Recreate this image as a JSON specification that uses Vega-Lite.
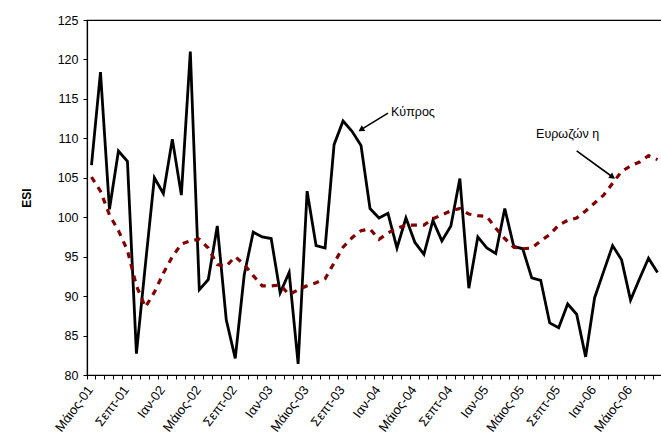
{
  "$schema": "https://vega.github.io/schema/vega-lite/v6.json",
  "width": 575,
  "height": 355,
  "autosize": {"type": "none"},
  "padding": {"left": 87, "top": 20, "right": 0, "bottom": 66},
  "background": "white",
  "config": {
    "view": {"stroke": "#000", "strokeWidth": 1.2},
    "font": "Liberation Sans",
    "axis": {"domainColor": "#000", "tickColor": "#000", "labelColor": "#000", "titleColor": "#000", "grid": false}
  },
  "datasets": {
    "esi": [
      {"m": "Μάιος-01", "cy": 106.6, "ez": 105.1},
      {"m": "Ιουν-01", "cy": 118.4, "ez": 103.3},
      {"m": "Ιουλ-01", "cy": 101.0, "ez": 100.3},
      {"m": "Αυγ-01", "cy": 108.4, "ez": 98.3},
      {"m": "Σεπτ-01", "cy": 107.1, "ez": 95.8},
      {"m": "Οκτ-01", "cy": 82.7, "ez": 91.3},
      {"m": "Νοε-01", "cy": 94.0, "ez": 88.6},
      {"m": "Δεκ-01", "cy": 105.0, "ez": 90.5},
      {"m": "Ιαν-02", "cy": 103.0, "ez": 92.9},
      {"m": "Φεβ-02", "cy": 109.9, "ez": 95.0},
      {"m": "Μαρ-02", "cy": 102.8, "ez": 96.6},
      {"m": "Απρ-02", "cy": 121.0, "ez": 97.0},
      {"m": "Μάιος-02", "cy": 90.8, "ez": 97.2},
      {"m": "Ιουν-02", "cy": 92.1, "ez": 96.1},
      {"m": "Ιουλ-02", "cy": 98.9, "ez": 94.0},
      {"m": "Αυγ-02", "cy": 87.0, "ez": 93.8},
      {"m": "Σεπτ-02", "cy": 82.1, "ez": 95.0},
      {"m": "Οκτ-02", "cy": 92.7, "ez": 94.0},
      {"m": "Νοε-02", "cy": 98.1, "ez": 92.6},
      {"m": "Δεκ-02", "cy": 97.5, "ez": 91.3},
      {"m": "Ιαν-03", "cy": 97.3, "ez": 91.3},
      {"m": "Φεβ-03", "cy": 90.4, "ez": 91.4},
      {"m": "Μαρ-03", "cy": 93.0, "ez": 90.2},
      {"m": "Απρ-03", "cy": 81.4, "ez": 90.8},
      {"m": "Μάιος-03", "cy": 103.3, "ez": 91.3},
      {"m": "Ιουν-03", "cy": 96.4, "ez": 91.7},
      {"m": "Ιουλ-03", "cy": 96.1, "ez": 92.2},
      {"m": "Αυγ-03", "cy": 109.2, "ez": 94.2},
      {"m": "Σεπτ-03", "cy": 112.2, "ez": 96.2},
      {"m": "Οκτ-03", "cy": 110.9, "ez": 97.4},
      {"m": "Νοε-03", "cy": 109.1, "ez": 98.3},
      {"m": "Δεκ-03", "cy": 101.1, "ez": 98.5},
      {"m": "Ιαν-04", "cy": 99.9, "ez": 97.2},
      {"m": "Φεβ-04", "cy": 100.5, "ez": 98.0},
      {"m": "Μαρ-04", "cy": 96.1, "ez": 98.6},
      {"m": "Απρ-04", "cy": 99.9, "ez": 99.0},
      {"m": "Μάιος-04", "cy": 96.8, "ez": 99.0},
      {"m": "Ιουν-04", "cy": 95.3, "ez": 99.0},
      {"m": "Ιουλ-04", "cy": 99.6, "ez": 99.8},
      {"m": "Αυγ-04", "cy": 97.0, "ez": 100.3},
      {"m": "Σεπτ-04", "cy": 98.9, "ez": 100.8},
      {"m": "Οκτ-04", "cy": 104.9, "ez": 101.1},
      {"m": "Νοε-04", "cy": 91.0, "ez": 100.4},
      {"m": "Δεκ-04", "cy": 97.5, "ez": 100.2},
      {"m": "Ιαν-05", "cy": 96.1, "ez": 100.1},
      {"m": "Φεβ-05", "cy": 95.4, "ez": 98.6},
      {"m": "Μαρ-05", "cy": 101.1, "ez": 97.3},
      {"m": "Απρ-05", "cy": 96.3, "ez": 96.2},
      {"m": "Μάιος-05", "cy": 96.0, "ez": 96.0},
      {"m": "Ιουν-05", "cy": 92.3, "ez": 96.1},
      {"m": "Ιουλ-05", "cy": 92.0, "ez": 97.0},
      {"m": "Αυγ-05", "cy": 86.6, "ez": 97.8},
      {"m": "Σεπτ-05", "cy": 86.0, "ez": 99.0},
      {"m": "Οκτ-05", "cy": 89.0, "ez": 99.6},
      {"m": "Νοε-05", "cy": 87.7, "ez": 99.9},
      {"m": "Δεκ-05", "cy": 82.3, "ez": 100.8},
      {"m": "Ιαν-06", "cy": 89.8, "ez": 101.8},
      {"m": "Φεβ-06", "cy": 93.1, "ez": 102.8},
      {"m": "Μαρ-06", "cy": 96.4, "ez": 104.3},
      {"m": "Απρ-06", "cy": 94.6, "ez": 105.8},
      {"m": "Μάιος-06", "cy": 89.5, "ez": 106.5},
      {"m": "Ιουν-06", "cy": 92.2, "ez": 107.0},
      {"m": "Ιουλ-06", "cy": 94.8, "ez": 107.8},
      {"m": "Αυγ-06", "cy": 93.0, "ez": 107.3}
    ],
    "notes": [
      {"name": "Κύπρος", "m": "Φεβ-04", "v": 113.3},
      {"name": "Ευρωζών η", "m": "Οκτ-05", "v": 110.6}
    ],
    "arrows": [
      {"name": "Κύπρος", "m": "Φεβ-04", "v": 113.2, "m2": "Νοε-03", "v2": 111.1},
      {"name": "Ευρωζών η", "m": "Νοε-05", "v": 108.4, "m2": "Μαρ-06", "v2": 105.1}
    ]
  },
  "encoding": {
    "x": {
      "field": "m",
      "type": "ordinal",
      "scale": {
        "type": "band",
        "paddingInner": 0,
        "paddingOuter": 0,
        "domain": ["Μάιος-01","Ιουν-01","Ιουλ-01","Αυγ-01","Σεπτ-01","Οκτ-01","Νοε-01","Δεκ-01",
          "Ιαν-02","Φεβ-02","Μαρ-02","Απρ-02","Μάιος-02","Ιουν-02","Ιουλ-02","Αυγ-02","Σεπτ-02","Οκτ-02","Νοε-02","Δεκ-02",
          "Ιαν-03","Φεβ-03","Μαρ-03","Απρ-03","Μάιος-03","Ιουν-03","Ιουλ-03","Αυγ-03","Σεπτ-03","Οκτ-03","Νοε-03","Δεκ-03",
          "Ιαν-04","Φεβ-04","Μαρ-04","Απρ-04","Μάιος-04","Ιουν-04","Ιουλ-04","Αυγ-04","Σεπτ-04","Οκτ-04","Νοε-04","Δεκ-04",
          "Ιαν-05","Φεβ-05","Μαρ-05","Απρ-05","Μάιος-05","Ιουν-05","Ιουλ-05","Αυγ-05","Σεπτ-05","Οκτ-05","Νοε-05","Δεκ-05",
          "Ιαν-06","Φεβ-06","Μαρ-06","Απρ-06","Μάιος-06","Ιουν-06","Ιουλ-06","Αυγ-06"]
      },
      "axis": {
        "title": null,
        "bandPosition": 0,
        "tickSize": 4,
        "tickWidth": 1,
        "domainWidth": 1.2,
        "labelAngle": -53,
        "labelAlign": "right",
        "labelBaseline": "middle",
        "labelOffset": -1,
        "labelPadding": 8,
        "labelFontSize": 13,
        "labelOverlap": false,
        "labelExpr": "indexof(['Μάιος','Σεπτ','Ιαν'], split(datum.value, '-')[0]) >= 0 ? datum.value : ''"
      }
    },
    "y": {
      "field": "cy",
      "type": "quantitative",
      "scale": {"domain": [80, 125], "nice": false, "zero": false},
      "axis": {
        "title": "ESI",
        "titleFontWeight": "bold",
        "titleFontSize": 12,
        "titlePadding": 24,
        "values": [80, 85, 90, 95, 100, 105, 110, 115, 120, 125],
        "tickSize": 4,
        "domainWidth": 1.2,
        "labelFontSize": 12.5,
        "labelPadding": 5,
        "labelFlush": false,
        "labelOverlap": false
      }
    }
  },
  "layer": [
    {
      "data": {"name": "esi"},
      "mark": {"type": "line", "color": "#000000", "strokeWidth": 2.8}
    },
    {
      "data": {"name": "esi"},
      "mark": {"type": "line", "color": "#800000", "strokeWidth": 3.2, "strokeDash": [6, 6]},
      "encoding": {"y": {"field": "ez", "type": "quantitative"}}
    },
    {
      "data": {"name": "notes"},
      "mark": {"type": "text", "align": "left", "baseline": "middle", "fontSize": 12.5, "dx": 3, "color": "#000"},
      "transform": [{"filter": "datum.name == 'Κύπρος'"}],
      "encoding": {"y": {"field": "v", "type": "quantitative"}, "text": {"field": "name"}}
    },
    {
      "data": {"name": "notes"},
      "mark": {"type": "text", "align": "center", "baseline": "middle", "fontSize": 12.5, "color": "#000"},
      "transform": [{"filter": "datum.name != 'Κύπρος'"}],
      "encoding": {"y": {"field": "v", "type": "quantitative"}, "text": {"field": "name"}}
    },
    {
      "data": {"name": "arrows"},
      "mark": {"type": "rule", "color": "#000", "strokeWidth": 1.6},
      "encoding": {
        "y": {"field": "v", "type": "quantitative"},
        "x2": {"field": "m2"},
        "y2": {"field": "v2"}
      }
    },
    {
      "data": {"name": "arrows"},
      "transform": [{"filter": "datum.name == 'Κύπρος'"}],
      "mark": {"type": "point", "shape": "triangle-up", "filled": true, "color": "#000", "size": 45, "angle": 238, "opacity": 1},
      "encoding": {"x": {"field": "m2", "type": "ordinal"}, "y": {"field": "v2", "type": "quantitative"}}
    },
    {
      "data": {"name": "arrows"},
      "transform": [{"filter": "datum.name != 'Κύπρος'"}],
      "mark": {"type": "point", "shape": "triangle-up", "filled": true, "color": "#000", "size": 45, "angle": 125, "opacity": 1},
      "encoding": {"x": {"field": "m2", "type": "ordinal"}, "y": {"field": "v2", "type": "quantitative"}}
    }
  ]
}
